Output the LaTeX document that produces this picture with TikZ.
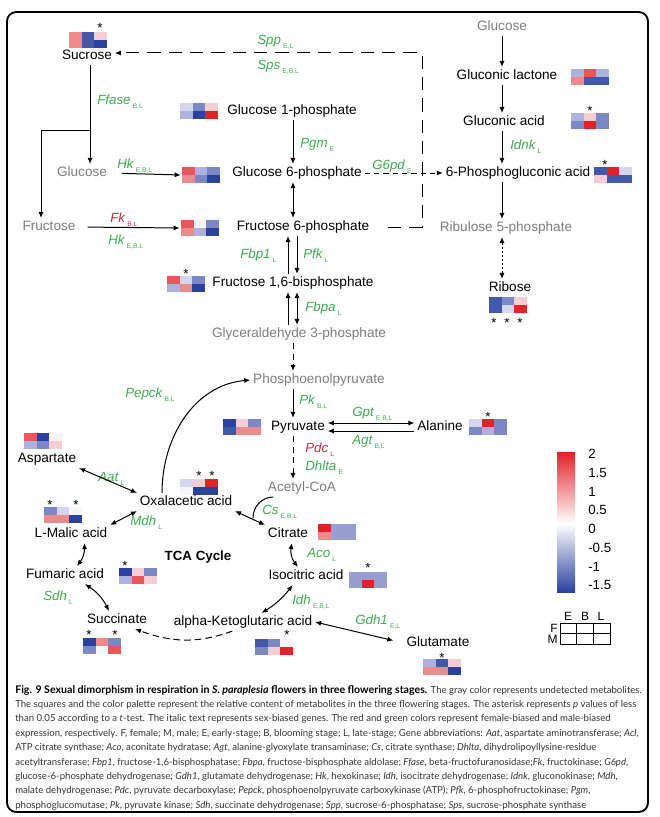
\documentclass[tikz,border=0pt]{standalone}
\usepackage{fontspec}
\setmainfont{Liberation Sans}
\newfontfamily\capfont{Lato}
\usepackage{tikz}
\usetikzlibrary{arrows.meta}
\usetikzlibrary{calc}

\definecolor{egreen}{RGB}{62,172,78}
\definecolor{ered}{RGB}{212,42,62}
\definecolor{mgray}{RGB}{125,125,125}
% heatmap palette
\definecolor{hR}{RGB}{226,34,42}
\definecolor{hR2}{RGB}{231,88,92}
\definecolor{hR3}{RGB}{238,138,140}
\definecolor{hR4}{RGB}{245,206,211}
\definecolor{hW}{RGB}{246,246,249}
\definecolor{hB4}{RGB}{212,214,237}
\definecolor{hB3}{RGB}{172,178,221}
\definecolor{hL}{RGB}{150,158,210}
\definecolor{hB2}{RGB}{124,136,198}
\definecolor{hB1}{RGB}{66,88,170}
\definecolor{hB0}{RGB}{42,66,158}

\newcommand{\lowsub}[1]{\,\raisebox{-0.55ex}{\fontsize{5}{5}\selectfont\upshape #1}}

% name, centre, then the six cells (F row: E B L, M row: E B L)
\newcommand{\hmap}[8]{%
  \node[hmbox] (#1) at (#2) {};
  \fill[#3] (#2) ++(-19,-8) rectangle ++(12.8,8.2);
  \fill[#4] (#2) ++(-6.33,-8) rectangle ++(12.8,8.2);
  \fill[#5] (#2) ++(6.33,-8) rectangle ++(12.67,8.2);
  \fill[#6] (#2) ++(-19,0) rectangle ++(12.8,8);
  \fill[#7] (#2) ++(-6.33,0) rectangle ++(12.8,8);
  \fill[#8] (#2) ++(6.33,0) rectangle ++(12.67,8);
}

\tikzset{
  met/.style={font=\fontsize{10.2}{12}\selectfont, inner sep=2pt, text height=7.3pt, text depth=1.9pt},
  undet/.style={met, text=mgray},
  enz/.style={font=\fontsize{10}{12}\selectfont\itshape, text=egreen, anchor=west, inner sep=0pt},
  enzr/.style={enz, text=ered},
  star/.style={font=\fontsize{10}{10}\selectfont, inner sep=0pt},
  hmbox/.style={minimum width=28.5pt, minimum height=12pt, inner sep=0pt, outer sep=1pt},
  cbl/.style={font=\fontsize{10}{12}\selectfont, anchor=west, inner sep=0pt},
  arr/.style={line width=0.75pt, -{Latex[length=4.5pt,width=3.8pt]}},
  darr/.style={line width=0.75pt, {Latex[length=4.5pt,width=3.8pt]}-{Latex[length=4.5pt,width=3.8pt]}},
}

\begin{document}
\begin{tikzpicture}[x=0.75pt, y=-0.75pt]
\useasboundingbox (0,0) rectangle (660,817);
\draw[line width=1.4pt, rounded corners=7pt] (7,12) rectangle (648,812);

% columns used by the vertical arrows
\coordinate (colS) at (90,0);
\coordinate (colF) at (41,0);
\coordinate (brS) at (90,130);
\coordinate (colM) at (293,0);
\coordinate (colL) at (288,0);
\coordinate (colR) at (297,0);
\coordinate (colP) at (502,0);
\coordinate (sppC) at (422,53);
\coordinate (csJ) at (253,518);

% metabolites
\node[met] (sucr) at (87,56) {Sucrose};
\node[undet] (glcA) at (82,173) {Glucose};
\node[undet] (fru) at (49,227) {Fructose};
\node[met] (g1p) at (292,111) {Glucose 1-phosphate};
\node[met] (g6p) at (297,173) {Glucose 6-phosphate};
\node[met] (f6p) at (303,227) {Fructose 6-phosphate};
\node[met] (f16) at (293,283) {Fructose 1,6-bisphosphate};
\node[undet] (g3p) at (299,334) {Glyceraldehyde 3-phosphate};
\node[undet] (pep) at (319,380) {Phosphoenolpyruvate};
\node[met] (pyr) at (298,427) {Pyruvate};
\node[met] (ala) at (440,427) {Alanine};
\node[undet] (acoa) at (302,488) {Acetyl-CoA};
\node[met] (oaa) at (186,502) {Oxalacetic acid};
\node[met] (cit) at (288,534) {Citrate};
\node[met] (iso) at (306,576) {Isocitric acid};
\node[met] (akg) at (243,622) {alpha-Ketoglutaric acid};
\node[met] (glu) at (438,643) {Glutamate};
\node[met] (succ) at (117,620) {Succinate};
\node[met] (fum) at (65,575) {Fumaric acid};
\node[met] (mal) at (71,534) {L-Malic acid};
\node[met] (asp) at (47,459) {Aspartate};
\node[font=\fontsize{10}{12}\selectfont\bfseries] (tca) at (198,557) {TCA Cycle};
\node[undet] (glcB) at (502,27) {Glucose};
\node[met] (glcl) at (507,76) {Gluconic lactone};
\node[met] (glca) at (504,122) {Gluconic acid};
\node[met] (pga) at (518,173) {6-Phosphogluconic acid};
\node[undet] (ru5p) at (506,228) {Ribulose 5-phosphate};
\node[met] (rib) at (510,288) {Ribose};

% genes
\node[enz] (eSpp) at (257,42) {Spp\lowsub{E,L}};
\node[enz] (eSps) at (257,67) {Sps\lowsub{E,B,L}};
\node[enz] (eFfase) at (97,102) {Ffase\lowsub{B,L}};
\node[enz] (eHkA) at (117,166) {Hk\lowsub{E,B,L}};
\node[enz] (ePgm) at (300,145) {Pgm\lowsub{E}};
\node[enz] (eG6pd) at (372,167) {G6pd\lowsub{E}};
\node[enz] (eIdnk) at (510,147) {Idnk\lowsub{L}};
\node[enzr] (eFk) at (110,220) {Fk\lowsub{B,L}};
\node[enz] (eHkB) at (108,242) {Hk\lowsub{E,B,L}};
\node[enz] (eFbp) at (240,256) {Fbp1\lowsub{L}};
\node[enz] (ePfk) at (303,256) {Pfk\lowsub{L}};
\node[enz] (eFbpa) at (305,309) {Fbpa\lowsub{L}};
\node[enz] (ePk) at (299,402) {Pk\lowsub{B,L}};
\node[enz] (eGpt) at (352,414) {Gpt\lowsub{E,B,L}};
\node[enz] (eAgt) at (352,442) {Agt\lowsub{B,L}};
\node[enzr] (ePdc) at (305,450) {Pdc\lowsub{L}};
\node[enz] (eDhlta) at (305,468) {Dhlta\lowsub{E}};
\node[enz] (ePepck) at (125,395) {Pepck\lowsub{B,L}};
\node[enz] (eAat) at (98,479) {Aat\lowsub{L}};
\node[enz] (eMdh) at (130,523) {Mdh\lowsub{L}};
\node[enz] (eCs) at (262,512) {Cs\lowsub{E,B,L}};
\node[enz] (eAco) at (307,555) {Aco\lowsub{L}};
\node[enz] (eIdh) at (292,602) {Idh\lowsub{E,B,L}};
\node[enz] (eSdh) at (43,598) {Sdh\lowsub{L}};
\node[enz] (eGdh) at (355,622) {Gdh1\lowsub{E,L}};

% heatmaps
\hmap{hSucr}{88,40}{hR3}{hB1}{hR4}{hR3}{hB1}{hB0}
\hmap{hG1P}{199,111}{hB4}{hB2}{hR4}{hB3}{hB0}{hR}
\hmap{hG6P}{201,175}{hR2}{hB3}{hB2}{hR3}{hB2}{hB0}
\hmap{hF6P}{200,228}{hR2}{hW}{hB2}{hR3}{hB3}{hB0}
\hmap{hF16}{186,284}{hR2}{hB4}{hB2}{hB3}{hR3}{hB0}
\hmap{hGlcl}{590,77}{hB3}{hR2}{hB3}{hR3}{hB1}{hB1}
\hmap{hGlca}{590,121}{hB3}{hR4}{hB2}{hB2}{hR}{hB2}
\hmap{hPga}{613,175}{hB1}{hR}{hB4}{hR4}{hB1}{hB1}
\hmap{hRib}{508,305}{hB1}{hB2}{hR4}{hB1}{hB4}{hR}
\hmap{hPyr}{242,427}{hB0}{hR4}{hB2}{hB1}{hR3}{hR3}
\hmap{hAla}{488,427}{hB4}{hR}{hB2}{hB2}{hB3}{hB2}
\hmap{hOaa}{199,487}{hB4}{hR4}{hR}{hW}{hB0}{hB0}
\hmap{hAsp}{43,441}{hR2}{hB0}{hW}{hB3}{hB2}{hR4}
\hmap{hMal}{63,515}{hB2}{hB4}{hW}{hR3}{hR3}{hB0}
\hmap{hFum}{138,576}{hB0}{hR4}{hB2}{hB3}{hR2}{hR4}
\hmap{hCit}{337,532}{hR}{hL}{hL}{hR3}{hL}{hL}
\hmap{hIso}{368,580}{hL}{hL}{hL}{hL}{hR}{hL}
\hmap{hSucc}{102,646}{hB0}{hR3}{hB2}{hB2}{hW}{hR2}
\hmap{hAkg}{274,647}{hB1}{hB2}{hW}{hB2}{hR4}{hR}
\hmap{hGlu}{442,667}{hB3}{hB1}{hR4}{hR3}{hR3}{hB0}

% asterisks
\node[star] (sSucr) at (100,28) {*};
\node[star] (sGlca) at (590,111) {*};
\node[star] (sPga) at (605,165) {*};
\node[star] (sF16) at (186,274) {*};
\node[star] (sRib1) at (494,323) {*};
\node[star] (sRib2) at (507,323) {*};
\node[star] (sRib3) at (520,323) {*};
\node[star] (sAla) at (488,417) {*};
\node[star] (sOaa1) at (199,476) {*};
\node[star] (sOaa2) at (212,476) {*};
\node[star] (sMal1) at (50,505) {*};
\node[star] (sMal2) at (76,505) {*};
\node[star] (sFum) at (125,566) {*};
\node[star] (sIso) at (368,568) {*};
\node[star] (sSucc1) at (89,635) {*};
\node[star] (sSucc2) at (115,635) {*};
\node[star] (sAkg) at (287,635) {*};
\node[star] (sGlu) at (442,658) {*};

% sucrose branch
\draw[arr] (sucr.south -| colS) -- (glcA.north -| colS);
\draw[arr] (brS) -| (fru.north -| colF);
\draw[arr, shorten <=9pt] (glcA.east) -- (hG6P.west);
\draw[arr, shorten <=7pt] (fru.east) -- (hF6P.west);
\draw[arr, dash pattern=on 10pt off 6pt] ([xshift=12pt]f6p.east) -| (sppC) -- (sppC -| sucr.east);

% pentose phosphate side
\draw[arr] (glcB.south -| colP) -- (glcl.north -| colP);
\draw[arr] (glcl.south -| colP) -- (glca.north -| colP);
\draw[arr] (glca.south -| colP) -- (pga.north -| colP);
\draw[arr] (pga.south -| colP) -- (ru5p.north -| colP);
\draw[darr, dash pattern=on 1.5pt off 1.5pt] (ru5p.south -| colP) -- (rib.north -| colP);
\draw[arr, dash pattern=on 4pt off 3pt] (g6p.east) -- (pga.west);

% glycolysis
\draw[arr] (g1p.south -| colM) -- (g6p.north -| colM);
\draw[darr] (g6p.south -| colM) -- (f6p.north -| colM);
\draw[arr] (f16.north -| colL) -- (f6p.south -| colL);
\draw[arr] (f6p.south -| colR) -- (f16.north -| colR);
\draw[arr] (g3p.north -| colL) -- (f16.south -| colL);
\draw[darr] (f16.south -| colR) -- (g3p.north -| colR);
\draw[arr, dash pattern=on 4.5pt off 3.5pt] (g3p.south -| colM) -- (pep.north -| colM);
\draw[arr] (pep.south -| colM) -- (pyr.north -| colM);
\draw[arr, dash pattern=on 4.5pt off 3.5pt] (pyr.south -| colM) -- (acoa.north -| colM);
\draw[darr] ([yshift=3pt]pyr.east) -- ([yshift=3pt]ala.west);
\draw[arr] ([yshift=-3pt]ala.west) -- ([yshift=-3pt]pyr.east);
\draw[arr] ([xshift=-18pt]oaa.north) to[out=90,in=185] (pep.west);

% TCA cycle
\draw[darr] (oaa.north west) -- (asp.south east);
\draw[darr] (oaa.south west) -- (mal.north east);
\draw[darr] (oaa.south east) -- (cit.north west);
\draw[line width=0.75pt] ([xshift=6pt]acoa.south west) to[out=180,in=90] (csJ);
\draw[darr] ([xshift=3pt]cit.south) to[bend right=25] ([xshift=-6pt]iso.north);
\draw[darr] ([xshift=-10pt]iso.south) to[bend left=10] ([xshift=14pt]akg.north);
\draw[darr, shorten >=8pt] (akg.east) -- (glu.west);
\draw[arr, dash pattern=on 5pt off 3pt] ([xshift=-8pt]akg.south) to[out=200,in=-20] ([xshift=-11pt]succ.south east);
\draw[darr] ([xshift=15pt]fum.south) to[bend left=15] ([xshift=-6pt]succ.north);
\draw[darr] ([xshift=10pt]mal.south) to[bend left=20] ([xshift=9pt]fum.north);

% colour bar
\shade[top color=hR, bottom color=white] (557,452) rectangle (575,524);
\shade[top color=white, bottom color=hB0] (557,523.5) rectangle (575,592);
\foreach \v/\yy [count=\i] in {2/454, 1.5/473, 1/492, 0.5/510, 0/529, -0.5/548, -1/567, -1.5/585}
  \node[cbl] (cb\i) at (588,\yy) {\v};

% F/M by E/B/L key
\draw[line width=0.6pt] (560,623) rectangle (610,644);
\foreach \x in {576.7,593.3}
  \draw[line width=0.6pt] (\x,623) -- (\x,644);
\draw[line width=0.6pt] (560,633.5) -- (610,633.5);
\foreach \t/\x in {E/568, B/585, L/601}
  \node[font=\fontsize{9}{10}\selectfont, inner sep=0pt] (l\t) at (\x,616) {\t};
\node[font=\fontsize{9}{10}\selectfont, inner sep=0pt, anchor=east] (lF) at (558,628) {F};
\node[font=\fontsize{9}{10}\selectfont, inner sep=0pt, anchor=east] (lM) at (558,639.5) {M};

% caption
\node[anchor=north west, align=left, inner sep=0pt, text=black!80,
  font=\capfont\fontsize{7.2}{10.8}\selectfont] (cap) at (15,685) {%
{\fontsize{7.95}{10.8}\selectfont\bfseries\color{black}Fig. 9 Sexual dimorphism in respiration in \textit{S. paraplesia} flowers in three flowering stages.} The gray color represents undetected metabolites.\\
The squares and the color palette represent the relative content of metabolites in the three flowering stages. The asterisk represents \textit{p} values of less\\
than 0.05 according to a \textit{t}-test. The italic text represents sex-biased genes. The red and green colors represent female-biased and male-biased\\
expression, respectively. F, female; M, male; E, early-stage; B, blooming stage; L, late-stage; Gene abbreviations: \textit{Aat}, aspartate aminotransferase; \textit{Acl},\\
ATP citrate synthase; \textit{Aco}, aconitate hydratase; \textit{Agt}, alanine-glyoxylate transaminase; \textit{Cs}, citrate synthase; \textit{Dhlta}, dihydrolipoyllysine-residue\\
acetyltransferase; \textit{Fbp1}, fructose-1,6-bisphosphatase; \textit{Fbpa}, fructose-bisphosphate aldolase; \textit{Ffase}, beta-fructofuranosidase;\textit{Fk}, fructokinase; \textit{G6pd},\\
glucose-6-phosphate dehydrogenase; \textit{Gdh1}, glutamate dehydrogenase; \textit{Hk}, hexokinase; \textit{Idh}, isocitrate dehydrogenase; \textit{Idnk}, gluconokinase; \textit{Mdh},\\
malate dehydrogenase; \textit{Pdc}, pyruvate decarboxylase; \textit{Pepck}, phosphoenolpyruvate carboxykinase (ATP); \textit{Pfk}, 6-phosphofructokinase; \textit{Pgm},\\
phosphoglucomutase; \textit{Pk}, pyruvate kinase; \textit{Sdh}, succinate dehydrogenase; \textit{Spp}, sucrose-6-phosphatase; \textit{Sps}, sucrose-phosphate synthase};

\end{tikzpicture}
\end{document}
